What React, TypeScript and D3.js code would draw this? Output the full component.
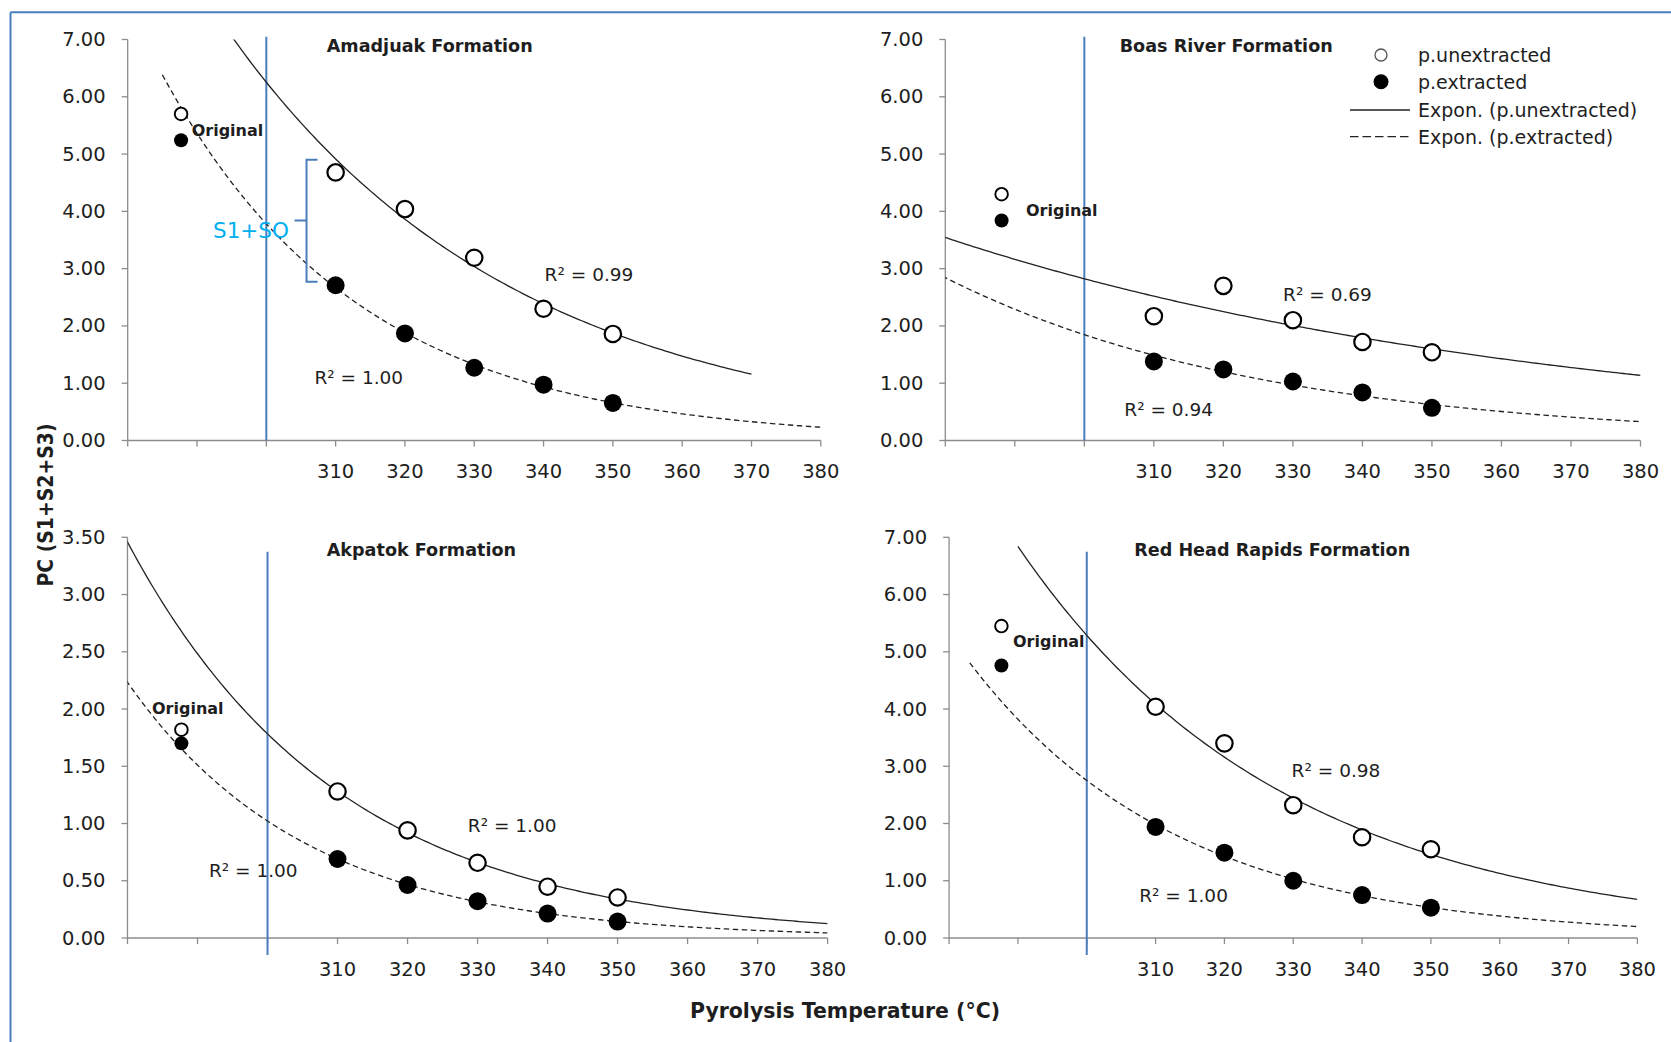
import React from 'react';
import * as d3 from 'd3';

// ---------- DATA ----------
const temps = [310, 320, 330, 340, 350];
const xTickValues = [280, 290, 300, 310, 320, 330, 340, 350, 360, 370, 380];
const xTickLabels = ['', '', '', '310', '320', '330', '340', '350', '360', '370', '380'];

const panelTitles = ['Amadjuak Formation', 'Boas River Formation', 'Akpatok Formation', 'Red Head Rapids Formation'];
const unextracted = [
  [4.68, 4.04, 3.19, 2.3, 1.86],
  [2.17, 2.7, 2.1, 1.72, 1.54],
  [1.28, 0.94, 0.657, 0.448, 0.354],
  [4.04, 3.4, 2.32, 1.76, 1.55],
];
const extracted = [
  [2.71, 1.87, 1.27, 0.975, 0.655],
  [1.38, 1.24, 1.03, 0.84, 0.57],
  [0.69, 0.463, 0.322, 0.213, 0.144],
  [1.94, 1.49, 1.0, 0.75, 0.53],
];
const originalTemp = [287.7, 288.1, 287.7, 287.6];
const originalUnext = [5.7, 4.3, 1.82, 5.45];
const originalExt = [5.24, 3.84, 1.7, 4.76];
const yMaxes = [7, 7, 3.5, 7];
const ySteps = [1, 1, 0.5, 1];
const r2Unext = ['0.99', '0.69', '1.00', '0.98'];
const r2Ext = ['1.00', '0.94', '1.00', '1.00'];
const solidRange = [[285, 370], [275, 380], [275, 380], [290, 380]];
const dashedRange = [[285, 380], [275, 380], [275, 380], [283, 380]];
const referenceTemp = 300;
const legendLabels = ['p.unextracted', 'p.extracted', 'Expon. (p.unextracted)', 'Expon. (p.extracted)'];
const bracketTemp = 305.8;
const bracketValues = [4.9, 3.84, 2.77];
const yAxisTitle = 'PC (S1+S2+S3)';
const xAxisTitle = 'Pyrolysis Temperature (°C)';

// ---------- LAYOUT ----------
const W = 1671;
const H = 1042;
const panels = [
  { x0: 127.7, x1: 820.8, yTop: 39.5, yBot: 440.5 },
  { x0: 945.3, x1: 1640.5, yTop: 39.5, yBot: 440.5 },
  { x0: 127.5, x1: 827.6, yTop: 537.3, yBot: 938 },
  { x0: 949.1, x1: 1637.4, yTop: 537.3, yBot: 938 },
];
const titlePos = [[326.7, 46], [1119.7, 46], [326.7, 550], [1134.2, 550]];
const originalPos = [[191.7, 130], [1026, 210.5], [152, 708.7], [1013, 641]];
const r2UnextPos = [[544.6, 274.5], [1283.1, 294.1], [467.8, 825], [1291.6, 770]];
const r2ExtPos = [[314.4, 377], [1124.3, 409.2], [208.9, 870], [1139.2, 895.5]];
const vlineExtent = [[36.7, 440.5], [36.7, 440.5], [551.7, 955], [551.7, 955]];

const FONT = "'DejaVu Sans', 'Open Sans', sans-serif";
const AXIS = '#8c8c8c';
const TXT = '#1e1e1e';
const BLUE = '#4a7ebb';

function expFit(xs: number[], ys: number[]) {
  const ly = ys.map((v) => Math.log(v));
  const mx = d3.mean(xs) as number;
  const my = d3.mean(ly) as number;
  let sxy = 0;
  let sxx = 0;
  xs.forEach((x, i) => {
    sxy += (x - mx) * (ly[i] - my);
    sxx += (x - mx) * (x - mx);
  });
  const b = sxy / sxx;
  const lnA = my - b * mx;
  return (x: number) => Math.exp(lnA + b * x);
}

function Panel({ i }: { i: number }) {
  const p = panels[i];
  const x = d3.scaleLinear().domain([280, 380]).range([p.x0, p.x1]);
  const y = d3.scaleLinear().domain([0, yMaxes[i]]).range([p.yBot, p.yTop]);
  const yTicks = d3.range(0, yMaxes[i] + 1e-9, ySteps[i]);
  const fU = expFit(temps, unextracted[i]);
  const fE = expFit(temps, extracted[i]);
  const mk = (f: (t: number) => number, r: number[]) => {
    const ts = d3.range(r[0], r[1] + 0.001, 0.5);
    return d3
      .line<number>()
      .x((t) => x(t))
      .y((t) => y(f(t)))(ts) as string;
  };
  const clipId = `clip${i}`;
  const fmt = d3.format('.2f');
  return (
    <g>
      <defs>
        <clipPath id={clipId}>
          <rect x={p.x0} y={p.yTop} width={p.x1 - p.x0} height={p.yBot - p.yTop} />
        </clipPath>
      </defs>
      <line x1={p.x0} x2={p.x0} y1={p.yTop} y2={p.yBot} stroke={AXIS} strokeWidth={1.3} />
      <line x1={p.x0} x2={p.x1} y1={p.yBot} y2={p.yBot} stroke={AXIS} strokeWidth={1.3} />
      {yTicks.map((v) => (
        <g key={'y' + v}>
          <line x1={p.x0 - 6} x2={p.x0} y1={y(v)} y2={y(v)} stroke={AXIS} strokeWidth={1.3} />
          <text x={p.x0 - 22} y={y(v)} textAnchor="end" dominantBaseline="central" fontSize={19.5} fill={TXT} fontFamily={FONT}>
            {fmt(v)}
          </text>
        </g>
      ))}
      {xTickValues.map((v, k) => (
        <g key={'x' + v}>
          <line x1={x(v)} x2={x(v)} y1={p.yBot} y2={p.yBot + 6} stroke={AXIS} strokeWidth={1.3} />
          <text x={x(v)} y={p.yBot + 31} textAnchor="middle" dominantBaseline="central" fontSize={19.5} fill={TXT} fontFamily={FONT}>
            {xTickLabels[k]}
          </text>
        </g>
      ))}
      <line x1={x(referenceTemp)} x2={x(referenceTemp)} y1={vlineExtent[i][0]} y2={vlineExtent[i][1]} stroke={BLUE} strokeWidth={2} />
      <text x={titlePos[i][0]} y={titlePos[i][1]} dominantBaseline="central" fontSize={17.6} fontWeight="bold" fill={TXT} fontFamily={FONT}>
        {panelTitles[i]}
      </text>
      <g clipPath={`url(#${clipId})`}>
        <path d={mk(fU, solidRange[i])} fill="none" stroke="#222" strokeWidth={1.3} />
        <path d={mk(fE, dashedRange[i])} fill="none" stroke="#222" strokeWidth={1.3} strokeDasharray="5.5,3.5" />
      </g>
      {temps.map((t, k) => (
        <g key={'p' + t}>
          <circle cx={x(t)} cy={y(unextracted[i][k])} r={8.2} fill="#fff" stroke="#000" strokeWidth={2.2} />
          <circle cx={x(t)} cy={y(extracted[i][k])} r={9} fill="#000" />
        </g>
      ))}
      <circle cx={x(originalTemp[i])} cy={y(originalUnext[i])} r={6.3} fill="#fff" stroke="#000" strokeWidth={1.9} />
      <circle cx={x(originalTemp[i])} cy={y(originalExt[i])} r={7} fill="#000" />
      <text x={originalPos[i][0]} y={originalPos[i][1]} dominantBaseline="central" fontSize={16} fontWeight="bold" fill={TXT} fontFamily={FONT}>
        Original
      </text>
      <text x={r2UnextPos[i][0]} y={r2UnextPos[i][1]} dominantBaseline="central" fontSize={18.5} fill={TXT} fontFamily={FONT}>
        {'R² = ' + r2Unext[i]}
      </text>
      <text x={r2ExtPos[i][0]} y={r2ExtPos[i][1]} dominantBaseline="central" fontSize={18.5} fill={TXT} fontFamily={FONT}>
        {'R² = ' + r2Ext[i]}
      </text>
      {i === 0 && (
        <g>
          <path
            d={`M${x(bracketTemp) + 11},${y(bracketValues[0])} H${x(bracketTemp)} V${y(bracketValues[2])} H${x(bracketTemp) + 11} M${x(bracketTemp)},${y(bracketValues[1])} H${x(bracketTemp) - 12}`}
            fill="none"
            stroke={BLUE}
            strokeWidth={2}
          />
          <text x={213} y={230} dominantBaseline="central" fontSize={21.5} fill="#00b0f0" fontFamily={FONT}>
            S1+SO
          </text>
        </g>
      )}
    </g>
  );
}

function Legend() {
  const ys = [55, 81.7, 110, 136.7];
  return (
    <g>
      <circle cx={1381} cy={ys[0]} r={6} fill="#fff" stroke="#555" strokeWidth={1.3} />
      <circle cx={1381} cy={ys[1]} r={7.5} fill="#000" />
      <line x1={1350} x2={1410} y1={ys[2]} y2={ys[2]} stroke="#222" strokeWidth={1.3} />
      <line x1={1350} x2={1410} y1={ys[3]} y2={ys[3]} stroke="#222" strokeWidth={1.3} strokeDasharray="8.5,4" />
      {legendLabels.map((l, k) => (
        <text key={l} x={1418} y={ys[k]} dominantBaseline="central" fontSize={19} fill={TXT} fontFamily={FONT}>
          {l}
        </text>
      ))}
    </g>
  );
}

export default function App() {
  return (
    <div style={{ position: 'absolute', left: 0, top: 0, width: W, height: H, background: '#fff' }}>
      <svg width={W} height={H} style={{ display: 'block' }}>
        <rect x={0} y={0} width={W} height={H} fill="#fff" />
        <line x1={10.5} x2={W} y1={12.3} y2={12.3} stroke={BLUE} strokeWidth={2} />
        <line x1={10.5} x2={10.5} y1={12.3} y2={H} stroke={BLUE} strokeWidth={2} />
        {[0, 1, 2, 3].map((i) => (
          <Panel key={i} i={i} />
        ))}
        <Legend />
        <text
          transform="translate(45.7,505) rotate(-90)"
          textAnchor="middle"
          dominantBaseline="central"
          fontSize={21}
          fontWeight="bold"
          fill={TXT}
          fontFamily={FONT}
          textLength={163}
          lengthAdjust="spacingAndGlyphs"
        >
          {yAxisTitle}
        </text>
        <text
          x={845}
          y={1010}
          textAnchor="middle"
          dominantBaseline="central"
          fontSize={22}
          fontWeight="bold"
          fill={TXT}
          fontFamily={FONT}
          textLength={310}
          lengthAdjust="spacingAndGlyphs"
        >
          {xAxisTitle}
        </text>
      </svg>
    </div>
  );
}
